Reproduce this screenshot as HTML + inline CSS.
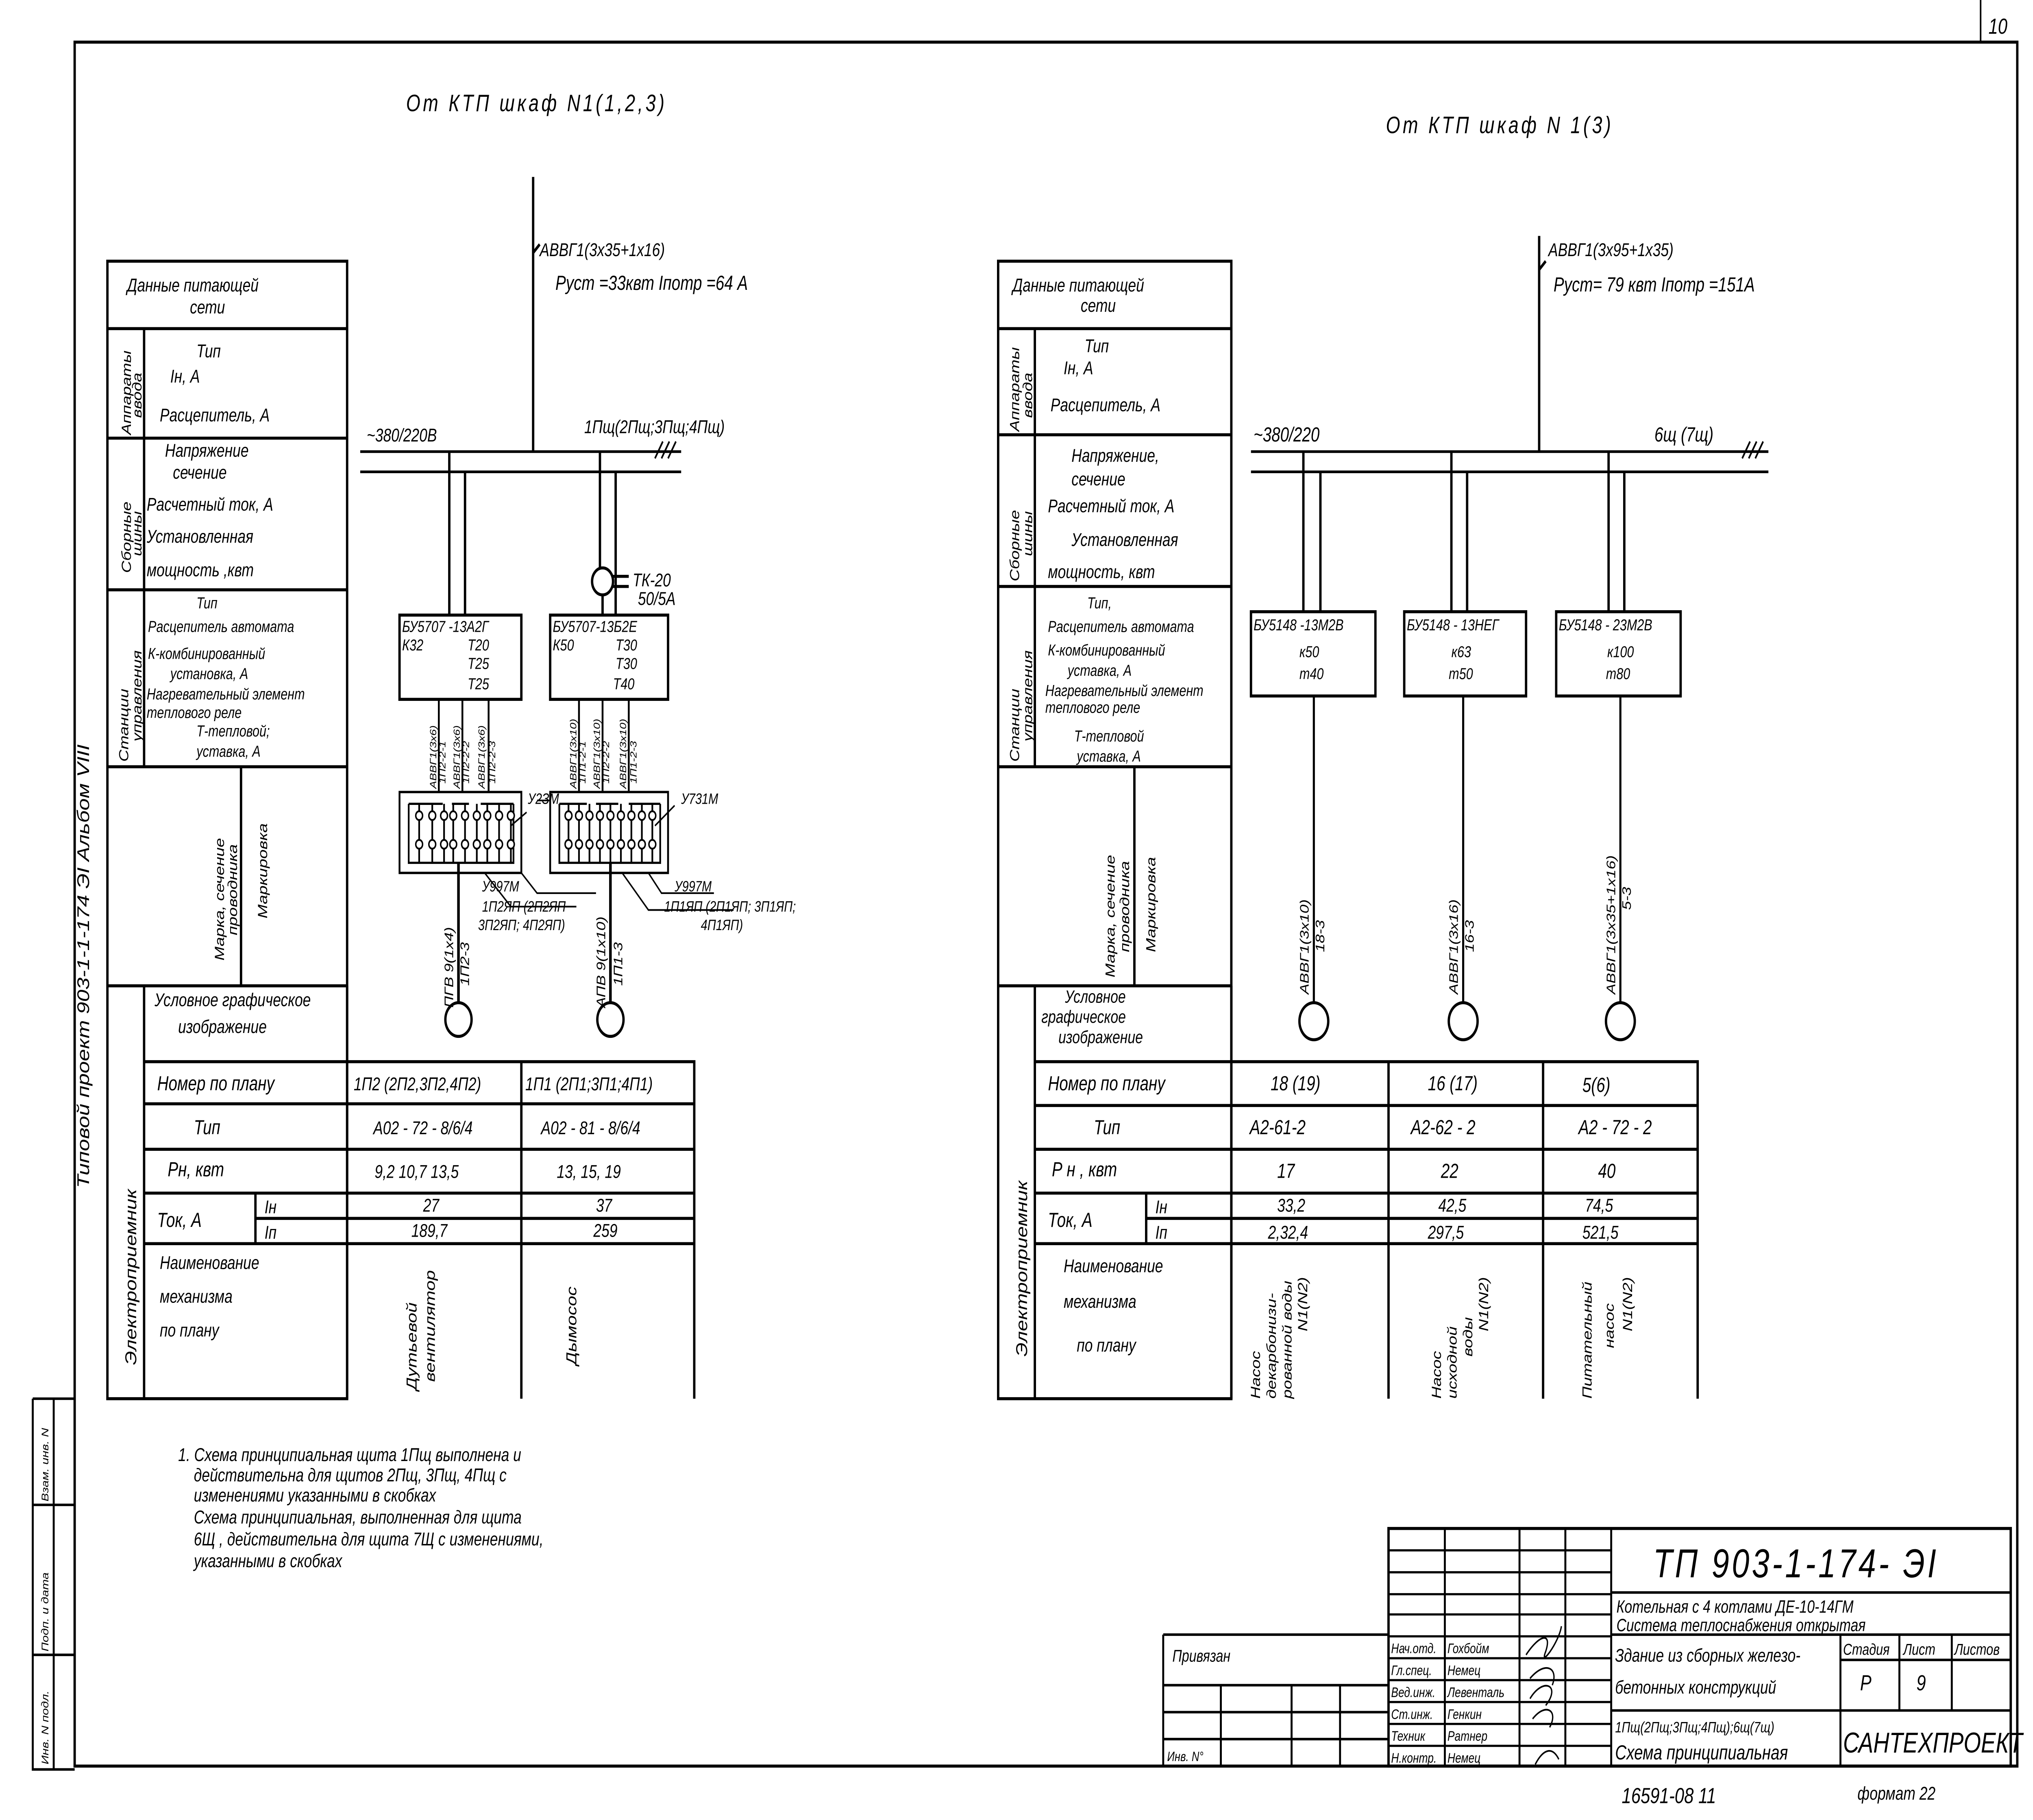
<!DOCTYPE html>
<html><head><meta charset="utf-8"><style>
html,body{margin:0;padding:0;background:#fff;width:100%;height:100%;overflow:hidden}
svg{display:block;position:fixed;left:0;top:0;width:100vw;height:100vh}
text{font-family:"Liberation Sans",sans-serif;font-style:italic;fill:#000}
</style></head><body>
<svg viewBox="0 0 1552 1080" preserveAspectRatio="none" xmlns="http://www.w3.org/2000/svg">
<rect width="1552" height="1080" fill="#fff"/>
<g stroke="#000" fill="none" stroke-width="1.8">
<path d="M57 25 H1540 V1048 H57 Z"/>
<path d="M1512 0 V25" stroke-width="1.2"/>
<path d="M25 830 H57 M25 830 V1050 H57 M41 830 V1050 M25 893 H57 M25 982 H57" stroke-width="1.5"/>

<path d="M82 155 H265 V830 H82 Z"/>
<path d="M82 195 H265 M82 260 H265 M82 350 H265 M82 455 H265 M82 585 H265"/>
<path d="M110 195 V455 M110 585 V830 M184 455 V585"/>
<path d="M110 630 H530 V830 M110 655 H530 M110 682 H530 M110 708 H530 M110 738 H530 M195 723 H530 M195 708 V738 M398 630 V830 M265 585 V830"/>

<path d="M762 155 H940 V830 H762 Z"/>
<path d="M762 195 H940 M762 258 H940 M762 348 H940 M762 455 H940 M762 585 H940"/>
<path d="M790 195 V455 M790 585 V830 M866 455 V585"/>
<path d="M790 630 H1296 V830 M790 656 H1296 M790 682 H1296 M790 708 H1296 M790 738 H1296 M875 723 H1296 M875 708 V738 M1060 630 V830 M1178 630 V830 M940 585 V830"/>

<path d="M407 105 V268"/>
<path d="M407 150 L412 145"/>
<path d="M275 268 H520 M275 280 H520" stroke-width="1.6"/>
<path d="M343 268 V365 M355 280 V365 M458 268 V337 M470 280 V365 M460 353 V365"/>
<circle cx="460" cy="345" r="8"/>
<path d="M468 342 H480 M468 348 H480"/>
<path d="M500 272 L506 262 M505 272 L511 262 M510 272 L516 262" stroke-width="1.2"/>
<rect x="305" y="365" width="93" height="50"/>
<rect x="420" y="365" width="90" height="50"/>
<path d="M335 415 V470 M353 415 V470 M373 415 V470 M442 415 V470 M460 415 V470 M480 415 V470" stroke-width="1.4"/>
<rect x="305" y="470" width="93" height="48" stroke-width="1.4"/>
<rect x="420" y="470" width="90" height="48" stroke-width="1.4"/>
<g stroke-width="1.3">
<path d="M312 477 V512 H392 V477 M312 477 H338 M345 477 H358 M367 477 H392"/>
<path d="M427 477 V512 H504 V477 M427 477 H448 M455 477 H472 M480 477 H504"/>
<path d="M320 477 V512 M330 477 V512 M339 477 V512 M346 477 V512 M355 477 V512 M364 477 V512 M372 477 V512 M381 477 V512 M390 477 V512"/>
<path d="M434 477 V512 M442 477 V512 M450 477 V512 M458 477 V512 M466 477 V512 M474 477 V512 M482 477 V512 M490 477 V512 M498 477 V512"/>
</g>
<g fill="#fff" stroke-width="1.1">
<circle cx="320" cy="484" r="2.6"/><circle cx="330" cy="484" r="2.6"/><circle cx="339" cy="484" r="2.6"/><circle cx="346" cy="484" r="2.6"/><circle cx="355" cy="484" r="2.6"/><circle cx="364" cy="484" r="2.6"/><circle cx="372" cy="484" r="2.6"/><circle cx="381" cy="484" r="2.6"/><circle cx="390" cy="484" r="2.6"/>
<circle cx="320" cy="501" r="2.6"/><circle cx="330" cy="501" r="2.6"/><circle cx="339" cy="501" r="2.6"/><circle cx="346" cy="501" r="2.6"/><circle cx="355" cy="501" r="2.6"/><circle cx="364" cy="501" r="2.6"/><circle cx="372" cy="501" r="2.6"/><circle cx="381" cy="501" r="2.6"/><circle cx="390" cy="501" r="2.6"/>
<circle cx="434" cy="484" r="2.6"/><circle cx="442" cy="484" r="2.6"/><circle cx="450" cy="484" r="2.6"/><circle cx="458" cy="484" r="2.6"/><circle cx="466" cy="484" r="2.6"/><circle cx="474" cy="484" r="2.6"/><circle cx="482" cy="484" r="2.6"/><circle cx="490" cy="484" r="2.6"/><circle cx="498" cy="484" r="2.6"/>
<circle cx="434" cy="501" r="2.6"/><circle cx="442" cy="501" r="2.6"/><circle cx="450" cy="501" r="2.6"/><circle cx="458" cy="501" r="2.6"/><circle cx="466" cy="501" r="2.6"/><circle cx="474" cy="501" r="2.6"/><circle cx="482" cy="501" r="2.6"/><circle cx="490" cy="501" r="2.6"/><circle cx="498" cy="501" r="2.6"/>
</g>
<path d="M350 512 V595 M466 512 V595" stroke-width="2"/>
<circle cx="350" cy="605" r="10"/>
<circle cx="466" cy="605" r="10"/>
<path d="M390 490 L402 482 M398 518 L410 530 L455 530 M370 518 L390 538 L440 538 M500 490 L515 478 M495 518 L505 530 L545 530 M475 518 L495 540 L560 540 M410 475 L420 475" stroke-width="1"/>

<path d="M1175 140 V268 M1175 160 L1180 155"/>
<path d="M955 268 H1350 M955 280 H1350" stroke-width="1.6"/>
<path d="M1330 272 L1336 262 M1335 272 L1341 262 M1340 272 L1346 262" stroke-width="1.2"/>
<path d="M995 268 V363 M1008 280 V363 M1108 268 V363 M1120 280 V363 M1228 268 V363 M1240 280 V363"/>
<rect x="955" y="363" width="95" height="50"/>
<rect x="1072" y="363" width="93" height="50"/>
<rect x="1188" y="363" width="95" height="50"/>
<path d="M1003 413 V595 M1117 413 V595 M1237 413 V595" stroke-width="1.6"/>
<circle cx="1003" cy="606" r="11"/>
<circle cx="1117" cy="606" r="11"/>
<circle cx="1237" cy="606" r="11"/>

<path d="M1060 907 H1535 V1048 H1060 Z"/>
<path d="M1230 907 V1048 M1103 907 V1048 M1160 907 V1048 M1195 907 V1048" stroke-width="1.5"/>
<path d="M1060 920 H1230 M1060 933 H1230 M1060 946 H1230 M1060 958 H1230 M1060 971 H1230 M1060 984 H1230 M1060 997 H1230 M1060 1010 H1230 M1060 1023 H1230 M1060 1036 H1230" stroke-width="1.3"/>
<path d="M1230 945 H1535 M1230 970 H1535 M1230 1015 H1535 M1405 970 V1048 M1405 985 H1535 M1450 970 V1015 M1490 970 V1015" stroke-width="1.5"/>
<path d="M888 970 H1060 M888 970 V1048 H1060 M888 1000 H1060 M888 1016 H1060 M888 1032 H1060 M932 1000 V1048 M986 1000 V1048 M1023 1000 V1048" stroke-width="1.5"/>
<path d="M1165 982 C1175 970,1185 968,1180 980 C1175 990,1190 975,1192 965 M1168 996 C1180 985,1190 990,1185 1000 M1168 1008 C1178 995,1192 1000,1180 1012 M1170 1020 C1180 1010,1190 1015,1183 1025 M1172 1047 C1178 1038,1185 1036,1190 1044" stroke-width="1"/>
</g>

<g font-size="12">
<text x="310" y="66" font-size="14" letter-spacing="2">От  КТП    шкаф  N1(1,2,3)</text>
<text x="1058" y="79" font-size="14" letter-spacing="2">От  КТП    шкаф  N 1(3)</text>
<text x="412" y="152" font-size="11">АВВГ1(3х35+1х16)</text>
<text x="424" y="172" font-size="12">Руст =33квт  Iпотр =64 А</text>
<text x="1182" y="152" font-size="11">АВВГ1(3х95+1х35)</text>
<text x="1186" y="173" font-size="12">Руст= 79  квт   Iпотр =151А</text>
<text x="280" y="262" font-size="11">~380/220В</text>
<text x="446" y="257" font-size="11">1Пщ(2Пщ;3Пщ;4Пщ)</text>
<text x="957" y="262" font-size="12">~380/220</text>
<text x="1263" y="262" font-size="12">6щ (7щ)</text>
<text x="483" y="348" font-size="11">ТК-20</text>
<text x="487" y="359" font-size="11">50/5А</text>
<g font-size="9.5">
<text x="307" y="375">БУ5707 -13А2Г</text><text x="307" y="386">К32</text><text x="357" y="386">Т20</text><text x="357" y="397">Т25</text><text x="357" y="409">Т25</text>
<text x="422" y="375">БУ5707-13Б2Е</text><text x="422" y="386">К50</text><text x="470" y="386">Т30</text><text x="470" y="397">Т30</text><text x="468" y="409">Т40</text>
<text x="957" y="374">БУ5148 -13М2В</text><text x="992" y="390">к50</text><text x="992" y="403">т40</text>
<text x="1074" y="374">БУ5148 - 13НЕГ</text><text x="1108" y="390">к63</text><text x="1106" y="403">т50</text>
<text x="1190" y="374">БУ5148 - 23М2В</text><text x="1227" y="390">к100</text><text x="1226" y="403">т80</text>
</g>
<g font-size="7">
<text transform="translate(333,468) rotate(-90)">АВВГ1(3х6)</text><text transform="translate(340,465) rotate(-90)">1П2-2-1</text>
<text transform="translate(351,468) rotate(-90)">АВВГ1(3х6)</text><text transform="translate(358,465) rotate(-90)">1П2-2-2</text>
<text transform="translate(370,468) rotate(-90)">АВВГ1(3х6)</text><text transform="translate(378,465) rotate(-90)">1П2-2-3</text>
<text transform="translate(440,468) rotate(-90)">АВВГ1(3х10)</text><text transform="translate(447,465) rotate(-90)">1П1-2-1</text>
<text transform="translate(458,468) rotate(-90)">АВВГ1(3х10)</text><text transform="translate(465,465) rotate(-90)">1П2-2-2</text>
<text transform="translate(478,468) rotate(-90)">АВВГ1(3х10)</text><text transform="translate(486,465) rotate(-90)">1П1-2-3</text>
</g>
<g font-size="9">
<text x="403" y="477">У2ЗМ</text><text x="520" y="477">У731М</text>
<text x="368" y="529">У997М</text><text x="515" y="529">У997М</text>
<text x="368" y="541">1П2ЯП (2П2ЯП</text><text x="365" y="552">3П2ЯП; 4П2ЯП)</text>
<text x="507" y="541">1П1ЯП (2П1ЯП; 3П1ЯП;</text><text x="535" y="552">4П1ЯП)</text>
</g>
<g font-size="9.5">
<text transform="translate(346,598) rotate(-90)">ПГВ 9(1х4)</text><text transform="translate(358,585) rotate(-90)">1П2-3</text>
<text transform="translate(462,598) rotate(-90)">АПВ 9(1х10)</text><text transform="translate(475,585) rotate(-90)">1П1-3</text>
<text transform="translate(999,590) rotate(-90)">АВВГ1(3х10)</text><text transform="translate(1011,565) rotate(-90)">18-3</text>
<text transform="translate(1113,590) rotate(-90)">АВВГ1(3х16)</text><text transform="translate(1125,565) rotate(-90)">16-3</text>
<text transform="translate(1233,590) rotate(-90)">АВВГ1(3х35+1х16)</text><text transform="translate(1245,540) rotate(-90)">5-3</text>
</g>
<text x="97" y="173" font-size="11">Данные питающей</text><text x="145" y="186" font-size="11">сети</text>
<text transform="translate(100,258) rotate(-90)" font-size="10">Аппараты</text><text transform="translate(108,248) rotate(-90)" font-size="10">ввода</text>
<text x="150" y="212" font-size="11">Тип</text><text x="130" y="227" font-size="11">Iн, А</text><text x="122" y="250" font-size="11">Расцепитель, А</text>
<text transform="translate(100,340) rotate(-90)" font-size="10">Сборные</text><text transform="translate(108,330) rotate(-90)" font-size="10">шины</text>
<text x="126" y="271" font-size="11">Напряжение</text><text x="132" y="284" font-size="11">сечение</text><text x="112" y="303" font-size="11">Расчетный ток, А</text><text x="112" y="322" font-size="11">Установленная</text><text x="112" y="342" font-size="11">мощность ,квт</text>
<text transform="translate(98,452) rotate(-90)" font-size="10">Станции</text><text transform="translate(108,440) rotate(-90)" font-size="10">управления</text>
<g font-size="9.5"><text x="150" y="361">Тип</text><text x="113" y="375">Расцепитель автомата</text><text x="113" y="391">К-комбинированный</text><text x="130" y="403">установка, А</text><text x="112" y="415">Нагревательный элемент</text><text x="112" y="426">теплового реле</text><text x="150" y="437">Т-тепловой;</text><text x="150" y="449">уставка, А</text></g>
<text transform="translate(171,570) rotate(-90)" font-size="10">Марка, сечение</text><text transform="translate(181,555) rotate(-90)" font-size="10">проводника</text><text transform="translate(204,545) rotate(-90)" font-size="10">Маркировка</text>
<text x="118" y="597" font-size="11">Условное графическое</text><text x="136" y="613" font-size="11">изображение</text>
<text transform="translate(104,810) rotate(-90)" font-size="12">Электроприемник</text>
<text x="120" y="647" font-size="12">Номер по плану</text><text x="148" y="673" font-size="12">Тип</text><text x="128" y="698" font-size="12">Рн, квт</text><text x="120" y="728" font-size="12">Ток, А</text><text x="202" y="720" font-size="11">Iн</text><text x="202" y="735" font-size="11">Iп</text>
<text x="122" y="753" font-size="11">Наименование</text><text x="122" y="773" font-size="11">механизма</text><text x="122" y="793" font-size="11">по плану</text>
<text x="270" y="647" font-size="11">1П2 (2П2,3П2,4П2)</text><text x="401" y="647" font-size="11">1П1 (2П1;3П1;4П1)</text>
<text x="285" y="673" font-size="11">А02 - 72 - 8/6/4</text><text x="413" y="673" font-size="11">А02 - 81 - 8/6/4</text>
<text x="286" y="699" font-size="11">9,2  10,7  13,5</text><text x="425" y="699" font-size="11">13, 15, 19</text>
<text x="323" y="719" font-size="11">27</text><text x="455" y="719" font-size="11">37</text>
<text x="314" y="734" font-size="11">189,7</text><text x="453" y="734" font-size="11">259</text>
<text transform="translate(318,825) rotate(-90)" font-size="11">Дутьевой</text><text transform="translate(332,820) rotate(-90)" font-size="11">вентилятор</text>
<text transform="translate(440,810) rotate(-90)" font-size="11">Дымосос</text>
<text x="773" y="173" font-size="11">Данные питающей</text><text x="825" y="185" font-size="11">сети</text>
<text transform="translate(778,256) rotate(-90)" font-size="10">Аппараты</text><text transform="translate(788,248) rotate(-90)" font-size="10">ввода</text>
<text x="828" y="209" font-size="11">Тип</text><text x="812" y="222" font-size="11">Iн, А</text><text x="802" y="244" font-size="11">Расцепитель, А</text>
<text transform="translate(778,345) rotate(-90)" font-size="10">Сборные</text><text transform="translate(788,330) rotate(-90)" font-size="10">шины</text>
<text x="818" y="274" font-size="11">Напряжение,</text><text x="818" y="288" font-size="11">сечение</text><text x="800" y="304" font-size="11">Расчетный ток, А</text><text x="818" y="324" font-size="11">Установленная</text><text x="800" y="343" font-size="11">мощность, квт</text>
<text transform="translate(778,452) rotate(-90)" font-size="10">Станции</text><text transform="translate(788,440) rotate(-90)" font-size="10">управления</text>
<g font-size="9.5"><text x="830" y="361">Тип,</text><text x="800" y="375">Расцепитель автомата</text><text x="800" y="389">К-комбинированный</text><text x="815" y="401">уставка, А</text><text x="798" y="413">Нагревательный элемент</text><text x="798" y="423">теплового реле</text><text x="820" y="440">Т-тепловой</text><text x="822" y="452">уставка, А</text></g>
<text transform="translate(851,580) rotate(-90)" font-size="10">Марка, сечение</text><text transform="translate(862,565) rotate(-90)" font-size="10">проводника</text><text transform="translate(882,565) rotate(-90)" font-size="10">Маркировка</text>
<text x="813" y="595" font-size="10.5">Условное</text><text x="795" y="607" font-size="10.5">графическое</text><text x="808" y="619" font-size="10.5">изображение</text>
<text transform="translate(784,805) rotate(-90)" font-size="12">Электроприемник</text>
<text x="800" y="647" font-size="12">Номер по плану</text><text x="835" y="673" font-size="12">Тип</text><text x="803" y="698" font-size="12">Р н , квт</text><text x="800" y="728" font-size="12">Ток, А</text><text x="882" y="720" font-size="11">Iн</text><text x="882" y="735" font-size="11">Iп</text>
<text x="812" y="755" font-size="11">Наименование</text><text x="812" y="776" font-size="11">механизма</text><text x="822" y="802" font-size="11">по плану</text>
<text x="970" y="647" font-size="12">18 (19)</text><text x="1090" y="647" font-size="12">16 (17)</text><text x="1208" y="648" font-size="12">5(6)</text>
<text x="954" y="673" font-size="12">А2-61-2</text><text x="1077" y="673" font-size="12">А2-62 - 2</text><text x="1205" y="673" font-size="12">А2 - 72 - 2</text>
<text x="975" y="699" font-size="12">17</text><text x="1100" y="699" font-size="12">22</text><text x="1220" y="699" font-size="12">40</text>
<text x="975" y="719" font-size="11">33,2</text><text x="1098" y="719" font-size="11">42,5</text><text x="1210" y="719" font-size="11">74,5</text>
<text x="968" y="735" font-size="11">2,32,4</text><text x="1090" y="735" font-size="11">297,5</text><text x="1208" y="735" font-size="11">521,5</text>
<g font-size="10">
<text transform="translate(962,830) rotate(-90)">Насос</text><text transform="translate(974,830) rotate(-90)">декарбонизи-</text><text transform="translate(986,830) rotate(-90)">рованной воды</text><text transform="translate(998,790) rotate(-90)">N1(N2)</text>
<text transform="translate(1100,830) rotate(-90)">Насос</text><text transform="translate(1112,830) rotate(-90)">исходной</text><text transform="translate(1124,805) rotate(-90)">воды</text><text transform="translate(1136,790) rotate(-90)">N1(N2)</text>
<text transform="translate(1215,830) rotate(-90)">Питательный</text><text transform="translate(1232,800) rotate(-90)">насос</text><text transform="translate(1246,790) rotate(-90)">N1(N2)</text>
</g>
<g font-size="11">
<text x="136" y="867">1. Схема принципиальная  щита  1Пщ  выполнена и</text>
<text x="148" y="879">действительна  для  щитов  2Пщ, 3Пщ, 4Пщ  с</text>
<text x="148" y="891">изменениями  указанными    в  скобках</text>
<text x="148" y="904">Схема  принципиальная, выполненная  для щита</text>
<text x="148" y="917">6Щ , действительна  для  щита  7Щ  с изменениями,</text>
<text x="148" y="930">указанными    в    скобках</text>
</g>
<text transform="translate(68,705) rotate(-90)" font-size="13">Типовой  проект  903-1-1-174    ЭI    Альбом  VIII</text>
<g font-size="7.5">
<text transform="translate(37,1047) rotate(-90)">Инв. N подл.</text>
<text transform="translate(37,980) rotate(-90)">Подп. и дата</text>
<text transform="translate(37,891) rotate(-90)">Взам. инв. N</text>
</g>
<text x="1518" y="20" font-size="13">10</text>
<text x="1262" y="936" font-size="24" font-style="normal" letter-spacing="2">ТП 903-1-174- ЭI</text>
<text x="1234" y="957" font-size="10.5">Котельная с 4 котлами ДЕ-10-14ГМ</text>
<text x="1234" y="968" font-size="10.5">Система теплоснабжения открытая</text>
<text x="1233" y="986" font-size="11">Здание из сборных железо-</text>
<text x="1233" y="1005" font-size="11">бетонных конструкций</text>
<text x="1407" y="982" font-size="9.5">Стадия</text><text x="1453" y="982" font-size="9.5">Лист</text><text x="1492" y="982" font-size="9.5">Листов</text>
<text x="1420" y="1003" font-size="13">Р</text><text x="1463" y="1003" font-size="13">9</text>
<text x="1233" y="1028" font-size="9">1Пщ(2Пщ;3Пщ;4Пщ);6щ(7щ)</text>
<text x="1233" y="1044" font-size="12">Схема принципиальная</text>
<text x="1407" y="1040" font-size="17" font-style="normal">САНТЕХПРОЕКТ</text>
<g font-size="8.2">
<text x="1062" y="981">Нач.отд.</text><text x="1105" y="981">Гохбойм</text>
<text x="1062" y="994">Гл.спец.</text><text x="1105" y="994">Немец</text>
<text x="1062" y="1007">Вед.инж.</text><text x="1105" y="1007">Левенталь</text>
<text x="1062" y="1020">Ст.инж.</text><text x="1105" y="1020">Генкин</text>
<text x="1062" y="1033">Техник</text><text x="1105" y="1033">Ратнер</text>
<text x="1062" y="1046">Н.контр.</text><text x="1105" y="1046">Немец</text>
</g>
<text x="895" y="986" font-size="10">Привязан</text>
<text x="891" y="1045" font-size="8">Инв. N°</text>
<text x="1238" y="1070" font-size="13">16591-08    11</text>
<text x="1418" y="1068" font-size="11">формат 22</text>
</g>
</svg>
</body></html>
